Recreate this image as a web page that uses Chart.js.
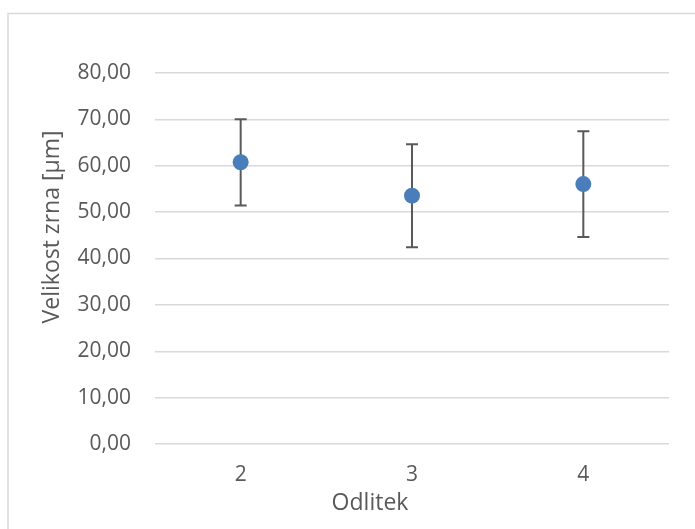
<!DOCTYPE html>
<html>
<head>
<meta charset="utf-8">
<script src="https://cdn.jsdelivr.net/npm/chart.js@4"></script>
<style>
  html, body { margin: 0; padding: 0; background: #fff; }
  #wrap { width: 695px; height: 529px; }
</style>
</head>
<body>
<div id="wrap"><canvas id="chart" width="695" height="529"></canvas></div>
<script>
// data
var categories = ['2', '3', '4'];
var means = [60.75, 53.55, 56.05];
var errors = [9.3, 11.1, 11.4];   // +/- deviation
var yTicks = [0, 10, 20, 30, 40, 50, 60, 70, 80];

var textColor = '#595959';
var fontName = "'Open Sans', sans-serif";

// outer frame like the excel chart border
var framePlugin = {
  id: 'frame',
  beforeDraw: function (chart) {
    var ctx = chart.ctx;
    ctx.save();
    ctx.fillStyle = '#fff';
    ctx.fillRect(0, 0, chart.width, chart.height);
    ctx.strokeStyle = '#d9d9d9';
    ctx.lineWidth = 1.5;
    ctx.strokeRect(8, 13.5, chart.width + 20, chart.height + 20);
    ctx.restore();
  }
};

// error bars, drawn under the markers
var errorBars = {
  id: 'errorBars',
  beforeDatasetsDraw: function (chart) {
    var ctx = chart.ctx;
    var xs = chart.scales.x, ys = chart.scales.y;
    ctx.save();
    ctx.strokeStyle = '#595959';
    ctx.lineWidth = 2;
    for (var i = 0; i < means.length; i++) {
      var x = xs.getPixelForValue(i);
      var top = ys.getPixelForValue(means[i] + errors[i]);
      var bot = ys.getPixelForValue(means[i] - errors[i]);
      ctx.beginPath();
      ctx.moveTo(x, top); ctx.lineTo(x, bot);
      ctx.moveTo(x - 6, top); ctx.lineTo(x + 6, top);
      ctx.moveTo(x - 6, bot); ctx.lineTo(x + 6, bot);
      ctx.stroke();
    }
    ctx.restore();
  }
};

// axis titles, placed where excel put them
var axisTitles = {
  id: 'axisTitles',
  afterDraw: function (chart) {
    var ctx = chart.ctx;
    ctx.save();
    ctx.fillStyle = textColor;
    ctx.font = '23px ' + fontName;
    ctx.textAlign = 'center';
    ctx.textBaseline = 'alphabetic';
    ctx.fillText('Odlitek', 370, 510);
    ctx.translate(59, 227);
    ctx.rotate(-Math.PI / 2);
    ctx.fillText('Velikost zrna [µm]', 0, 0);
    ctx.restore();
  }
};

new Chart(document.getElementById('chart'), {
  type: 'line',
  data: {
    labels: categories,
    datasets: [{
      label: 'Velikost zrna',
      data: means,
      showLine: false,
      pointRadius: 8,
      pointHoverRadius: 8,
      pointBackgroundColor: '#4a7ebb',
      pointBorderColor: '#4a7ebb',
      pointBorderWidth: 0
    }]
  },
  options: {
    responsive: false,
    animation: false,
    layout: { padding: { left: 0, right: 26, top: 73, bottom: 0 } },
    plugins: {
      legend: { display: false },
      tooltip: { enabled: false }
    },
    scales: {
      x: {
        offset: true,
        grid: { display: false, drawTicks: false },
        border: { display: false },
        ticks: {
          color: textColor,
          font: { family: fontName, size: 21 },
          padding: 18
        },
        afterFit: function (s) { s.height = 85; }
      },
      y: {
        min: 0,
        max: 80,
        afterBuildTicks: function (s) {
          s.ticks = yTicks.map(function (v) { return { value: v }; });
        },
        grid: { color: '#d9d9d9', lineWidth: 1.5, drawTicks: false },
        border: { display: false },
        ticks: {
          color: textColor,
          font: { family: fontName, size: 21 },
          padding: 24,
          callback: function (v) { return v.toFixed(2).replace('.', ','); }
        },
        afterFit: function (s) { s.width = 155; }
      }
    }
  },
  plugins: [framePlugin, errorBars, axisTitles]
});
</script>
</body>
</html>
